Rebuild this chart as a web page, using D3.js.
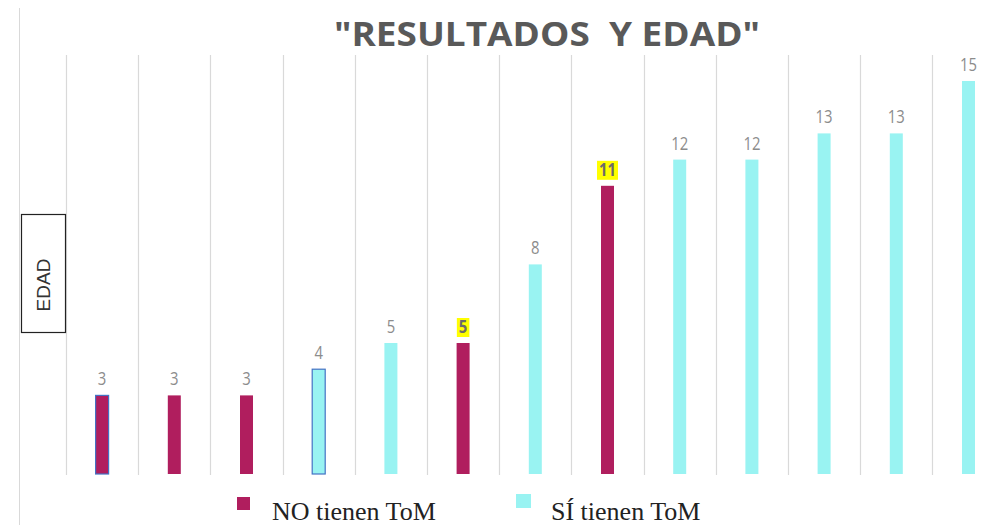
<!DOCTYPE html>
<html>
<head>
<meta charset="utf-8">
<script src="https://cdn.jsdelivr.net/npm/d3@7"></script>
<style>
  body { margin: 0; background: #fff; }
  svg { display: block; }
</style>
</head>
<body>
<svg id="chart" width="981" height="525"></svg>
<script>
(function(){
    'use strict';

    // data
    var categories = ['1', '2', '3', '4', '5', '6', '7', '8', '9', '10', '11', '12', '13'];
    var ages = [3, 3, 3, 4, 5, 5, 8, 11, 12, 12, 13, 13, 15];
    var groups = ['NO', 'NO', 'NO', 'SI', 'SI', 'NO', 'SI', 'NO', 'SI', 'SI', 'SI', 'SI', 'SI'];
    var outlined = [true, false, false, true, false, false, false, false, false, false, false, false, false];
    var highlighted = [false, false, false, false, false, true, false, true, false, false, false, false, false];
    var legendLabels = ['NO tienen ToM', 'SÍ tienen ToM'];

    var colors = {NO: '#B01E5E', SI: '#99F3F2'};
    var margin = {top: 55, left: 66, bottom: 51};
    var width = 981, height = 525;
    var bandW = 72.2;

    var svg = d3.select('#chart');

    var x = d3.scaleBand()
        .domain(categories)
        .range([margin.left, margin.left + bandW * categories.length])
        .paddingInner(0).paddingOuter(0);

    var y = d3.scaleLinear().domain([0, 15])
        .range([height - margin.bottom, 81]);

    // border line on the left
    svg.append('line')
        .attr('x1', 19.5).attr('x2', 19.5)
        .attr('y1', 8).attr('y2', height)
        .attr('stroke', '#d9d9d9').attr('stroke-width', 1);

    // vertical grid between categories
    var gridX = categories.map(function(c) { return x(c); });
    svg.append('g').selectAll('line').data(gridX).enter().append('line')
        .attr('x1', function(d) { return Math.round(d) + 0.5; })
        .attr('x2', function(d) { return Math.round(d) + 0.5; })
        .attr('y1', margin.top).attr('y2', height - margin.bottom + 1)
        .attr('stroke', '#d9d9d9').attr('stroke-width', 1.2);

    var barW = 13;
    svg.append('g').selectAll('rect').data(ages).enter().append('rect')
        .attr('x', function(d, i) { return x(categories[i]) + x.bandwidth() / 2 - barW / 2; })
        .attr('y', function(d) { return y(d); })
        .attr('width', barW)
        .attr('height', function(d) { return y(0) - y(d); })
        .attr('fill', function(d, i) { return colors[groups[i]]; })
        .attr('stroke', function(d, i) { return outlined[i] ? '#4472C4' : 'none'; })
        .attr('stroke-width', 1.2);

    // value labels
    var labels = svg.append('g');
    ages.forEach(function(d, i) {
        var cx = x(categories[i]) + x.bandwidth() / 2;
        var ty = y(d) - 10;
        var len = String(d).length * 8.5;
        if (highlighted[i]) {
            labels.append('rect')
                .attr('x', cx - len / 2 - 2).attr('y', ty - 15)
                .attr('width', len + 4).attr('height', 19)
                .attr('fill', '#FFFF00');
        }
        labels.append('text')
            .attr('x', cx).attr('y', ty)
            .attr('text-anchor', 'middle')
            .attr('textLength', len)
            .attr('lengthAdjust', 'spacingAndGlyphs')
            .style('font-family', '"Open Sans", sans-serif')
            .style('font-size', '18px')
            .style('font-weight', highlighted[i] ? 'bold' : 'normal')
            .attr('fill', highlighted[i] ? '#6b6b6b' : '#8c8c8c')
            .text(d);
    });

    // title
    svg.append('text')
        .attr('x', 547).attr('y', 46)
        .attr('text-anchor', 'middle')
        .attr('textLength', 426)
        .attr('lengthAdjust', 'spacingAndGlyphs')
        .style('white-space', 'pre')
        .style('font-family', '"Open Sans", sans-serif')
        .style('font-size', '34px')
        .style('font-weight', 'bold')
        .attr('fill', '#595959')
        .text('"RESULTADOS  Y EDAD"');

    // y axis title box
    svg.append('rect')
        .attr('x', 21.5).attr('y', 214.5)
        .attr('width', 44).attr('height', 118)
        .attr('fill', '#fff').attr('stroke', '#222').attr('stroke-width', 1.2);
    svg.append('text')
        .attr('transform', 'translate(50,285) rotate(-90)')
        .attr('text-anchor', 'middle')
        .style('font-family', '"Liberation Sans", Arial, sans-serif')
        .style('font-size', '19px')
        .attr('fill', '#333')
        .text('EDAD');

    // legend
    var legendX = [237, 516];
    var legendKeys = ['NO', 'SI'];
    var legend = svg.append('g');
    legendLabels.forEach(function(lbl, i) {
        legend.append('rect')
            .attr('x', legendX[i]).attr('y', i === 0 ? 497 : 494)
            .attr('width', i === 0 ? 13 : 15).attr('height', i === 0 ? 13 : 14)
            .attr('fill', colors[legendKeys[i]]);
        legend.append('text')
            .attr('x', legendX[i] + 35).attr('y', 520)
            .style('font-family', '"Liberation Serif", "Times New Roman", serif')
            .style('font-size', '26px')
            .attr('fill', '#222')
            .text(lbl);
    });
})();
</script>
</body>
</html>
